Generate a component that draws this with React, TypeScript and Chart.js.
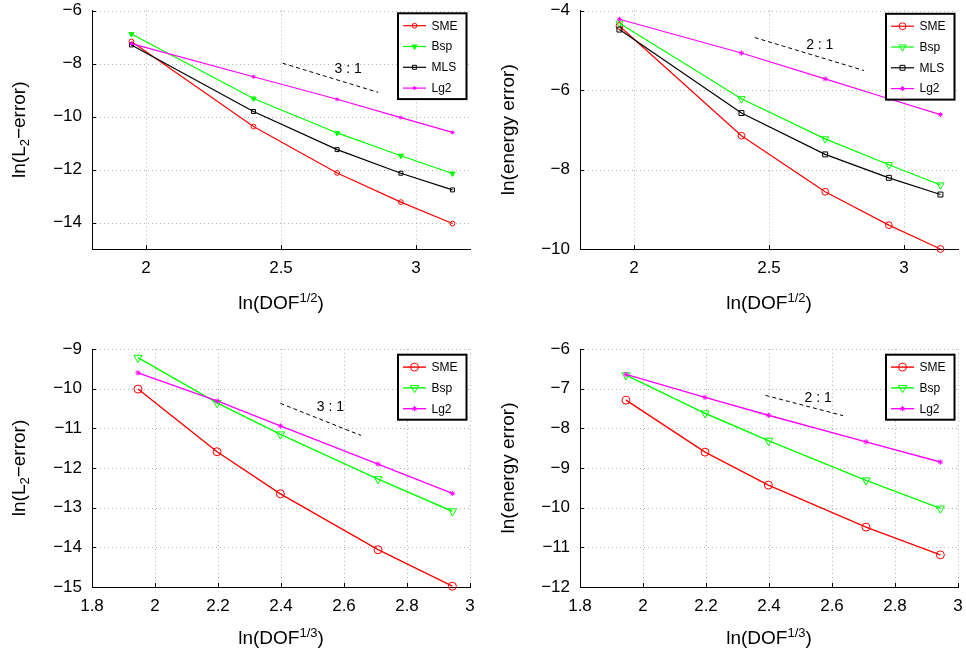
import React, { useEffect, useRef } from 'react';
import { Chart, registerables } from 'chart.js';

Chart.register(...registerables);

const FONT = '"Liberation Sans", Arial, Helvetica, sans-serif';

// ---------------- data ----------------
// x positions: ln(DOF^(1/2)) for 2D, ln(DOF^(1/3)) for 3D
const dof2D = [1.946, 2.398, 2.708, 2.944, 3.135];
const dof3D = [1.946, 2.197, 2.398, 2.708, 2.944];

// top-left: ln(L2-error), 2D
const l2SME2D = [-7.17, -10.38, -12.13, -13.23, -14.04];
const l2Bsp2D = [-6.89, -9.32, -10.62, -11.48, -12.15];
const l2MLS2D = [-7.3, -9.81, -11.25, -12.14, -12.77];
const l2Lg22D = [-7.25, -8.5, -9.35, -10.04, -10.6];

// top-right: ln(energy error), 2D
const enSME2D = [-4.39, -7.15, -8.56, -9.4, -10.0];
const enBsp2D = [-4.32, -6.22, -7.23, -7.88, -8.39];
const enMLS2D = [-4.48, -6.58, -7.62, -8.21, -8.63];
const enLg22D = [-4.22, -5.07, -5.72, -6.22, -6.62];

// bottom-left: ln(L2-error), 3D
const l2SME3D = [-10.01, -11.59, -12.65, -14.06, -14.98];
const l2Bsp3D = [-9.22, -10.36, -11.15, -12.28, -13.09];
const l2Lg23D = [-9.6, -10.31, -10.94, -11.9, -12.64];

// bottom-right: ln(energy error), 3D
const enSME3D = [-7.29, -8.6, -9.43, -10.49, -11.19];
const enBsp3D = [-6.66, -7.62, -8.31, -9.31, -10.02];
const enLg23D = [-6.64, -7.22, -7.67, -8.34, -8.85];

// slope guide lines (dashed) and their labels
const slopeL22DX = [2.506, 2.86];
const slopeL22DY = [-7.99, -9.09];
const slopeEn2DX = [2.447, 2.852];
const slopeEn2DY = [-4.68, -5.51];
const slopeL23DX = [2.398, 2.654];
const slopeL23DY = [-10.37, -11.18];
const slopeEn3DX = [2.389, 2.635];
const slopeEn3DY = [-7.17, -7.68];
const slopeLabels = ['3 : 1', '2 : 1', '3 : 1', '2 : 1'];
const slopeLabelXs = [2.749, 2.688, 2.557, 2.556];
const slopeLabelYs = [-8.2, -4.86, -10.47, -7.25];

// ticks
const xTicks2D = [2, 2.5, 3];
const xTicks3D = [1.8, 2, 2.2, 2.4, 2.6, 2.8, 3];
const yTicksL22D = [-14, -12, -10, -8, -6];
const yTicksEn2D = [-10, -8, -6, -4];
const yTicksL23D = [-15, -14, -13, -12, -11, -10, -9];
const yTicksEn3D = [-12, -11, -10, -9, -8, -7, -6];

// axis titles
const xTitleMain = 'ln(DOF';
const xTitleSup2D = '1/2';
const xTitleSup3D = '1/3';
const yTitleL2 = ['ln(L', '2', '\u2212error)'];
const yTitleEn = ['ln(energy error)'];

// ---------------- styles ----------------
const STYLES: Record<string, { color: string; shape: string; rot: number }> = {
  SME: { color: '#ff0000', shape: 'circle', rot: 0 },
  Bsp: { color: '#00ff00', shape: 'triangle', rot: 180 },
  MLS: { color: '#000000', shape: 'rect', rot: 0 },
  Lg2: { color: '#ff00ff', shape: 'star', rot: 0 },
};

type Series = { name: string; ys: number[]; radius: number; filled: boolean };
type Panel = {
  left: number; top: number; width: number; height: number;
  yAxisWidth: number; padTop: number; padRight: number; xAxisHeight: number;
  xMin: number; xMax: number; yMin: number; yMax: number;
  xTicks: number[]; yTicks: number[]; xs: number[]; series: Series[];
  slopeX: number[]; slopeY: number[]; slopeIdx: number;
  yTitle: string[]; yTitleX: number; xSup: string; xTitleBaseline: number;
  legendTop: number; lineWidth: number;
};

const panels: Panel[] = [
  {
    left: 0, top: 0, width: 483, height: 320,
    yAxisWidth: 92, padTop: 10.5, padRight: 13, xAxisHeight: 71,
    xMin: 1.8, xMax: 3.2, yMin: -15, yMax: -6,
    xTicks: xTicks2D, yTicks: yTicksL22D, xs: dof2D,
    series: [
      { name: 'SME', ys: l2SME2D, radius: 2.4, filled: false },
      { name: 'Bsp', ys: l2Bsp2D, radius: 3, filled: true },
      { name: 'MLS', ys: l2MLS2D, radius: 2.8, filled: false },
      { name: 'Lg2', ys: l2Lg22D, radius: 2, filled: false },
    ],
    slopeX: slopeL22DX, slopeY: slopeL22DY, slopeIdx: 0,
    yTitle: yTitleL2, yTitleX: 24.5, xSup: xTitleSup2D, xTitleBaseline: 309,
    legendTop: 2.8, lineWidth: 1.2,
  },
  {
    left: 483, top: 0, width: 483, height: 320,
    yAxisWidth: 97, padTop: 10.5, padRight: 8, xAxisHeight: 71,
    xMin: 1.8, xMax: 3.2, yMin: -10, yMax: -4,
    xTicks: xTicks2D, yTicks: yTicksEn2D, xs: dof2D,
    series: [
      { name: 'SME', ys: enSME2D, radius: 3.4, filled: false },
      { name: 'Bsp', ys: enBsp2D, radius: 4.2, filled: false },
      { name: 'MLS', ys: enMLS2D, radius: 3.5, filled: false },
      { name: 'Lg2', ys: enLg22D, radius: 2.5, filled: false },
    ],
    slopeX: slopeEn2DX, slopeY: slopeEn2DY, slopeIdx: 1,
    yTitle: yTitleEn, yTitleX: 30.6, xSup: xTitleSup2D, xTitleBaseline: 309,
    legendTop: 3.3, lineWidth: 1.2,
  },
  {
    left: 0, top: 320, width: 483, height: 330,
    yAxisWidth: 92, padTop: 29, padRight: 13, xAxisHeight: 63,
    xMin: 1.8, xMax: 3, yMin: -15, yMax: -9,
    xTicks: xTicks3D, yTicks: yTicksL23D, xs: dof3D,
    series: [
      { name: 'SME', ys: l2SME3D, radius: 4, filled: false },
      { name: 'Bsp', ys: l2Bsp3D, radius: 4.8, filled: false },
      { name: 'Lg2', ys: l2Lg23D, radius: 2.6, filled: false },
    ],
    slopeX: slopeL23DX, slopeY: slopeL23DY, slopeIdx: 2,
    yTitle: yTitleL2, yTitleX: 25.3, xSup: xTitleSup3D, xTitleBaseline: 324.3,
    legendTop: 5.7, lineWidth: 1.4,
  },
  {
    left: 483, top: 320, width: 483, height: 330,
    yAxisWidth: 97, padTop: 29, padRight: 8, xAxisHeight: 63,
    xMin: 1.8, xMax: 3, yMin: -12, yMax: -6,
    xTicks: xTicks3D, yTicks: yTicksEn3D, xs: dof3D,
    series: [
      { name: 'SME', ys: enSME3D, radius: 4, filled: false },
      { name: 'Bsp', ys: enBsp3D, radius: 4.8, filled: false },
      { name: 'Lg2', ys: enLg23D, radius: 2.6, filled: false },
    ],
    slopeX: slopeEn3DX, slopeY: slopeEn3DY, slopeIdx: 3,
    yTitle: yTitleEn, yTitleX: 30.6, xSup: xTitleSup3D, xTitleBaseline: 324.3,
    legendTop: 5.7, lineWidth: 1.4,
  },
];

// ---------------- helpers ----------------
function fmtX(v: number) {
  return String(Number(v.toFixed(2)));
}
function fmtY(v: number) {
  return String(Number(v.toFixed(2))).replace('-', '\u2212');
}

function shapePath(ctx: CanvasRenderingContext2D, shape: string, rot: number, x: number, y: number, r: number) {
  ctx.beginPath();
  if (shape === 'circle') {
    ctx.arc(x, y, r, 0, Math.PI * 2);
  } else if (shape === 'triangle') {
    let rad = (rot * Math.PI) / 180;
    ctx.moveTo(x + Math.sin(rad) * r, y - Math.cos(rad) * r);
    rad += (2 * Math.PI) / 3;
    ctx.lineTo(x + Math.sin(rad) * r, y - Math.cos(rad) * r);
    rad += (2 * Math.PI) / 3;
    ctx.lineTo(x + Math.sin(rad) * r, y - Math.cos(rad) * r);
    ctx.closePath();
  } else if (shape === 'rect') {
    const s = r * Math.SQRT1_2;
    ctx.rect(x - s, y - s, 2 * s, 2 * s);
  } else if (shape === 'star') {
    ctx.moveTo(x, y - r); ctx.lineTo(x, y + r);
    ctx.moveTo(x - r, y); ctx.lineTo(x + r, y);
    const d = r * Math.SQRT1_2;
    ctx.moveTo(x - d, y - d); ctx.lineTo(x + d, y + d);
    ctx.moveTo(x - d, y + d); ctx.lineTo(x + d, y - d);
  }
}

type Seg = { t: string; size: number; dy: number };

function drawSegs(ctx: CanvasRenderingContext2D, segs: Seg[], cx: number, baseline: number) {
  let total = 0;
  for (const s of segs) {
    ctx.font = `${s.size}px ${FONT}`;
    total += ctx.measureText(s.t).width;
  }
  let x = cx - total / 2;
  ctx.textAlign = 'left';
  ctx.textBaseline = 'alphabetic';
  for (const s of segs) {
    ctx.font = `${s.size}px ${FONT}`;
    ctx.fillText(s.t, x, baseline + s.dy);
    x += ctx.measureText(s.t).width;
  }
}

function makePlugin(p: Panel) {
  return {
    id: 'decor',
    beforeDatasetsDraw(chart: any) {
      const { ctx, chartArea: a, scales } = chart;
      const xs = scales.x;
      const ys = scales.y;
      ctx.save();
      ctx.strokeStyle = '#b5b5b5';
      ctx.lineWidth = 1;
      ctx.setLineDash([1, 3]);
      for (const v of p.xTicks) {
        const px = Math.round(xs.getPixelForValue(v)) + 0.5;
        if (px <= a.left + 1) continue;
        ctx.beginPath(); ctx.moveTo(px, a.top); ctx.lineTo(px, a.bottom); ctx.stroke();
      }
      for (const v of p.yTicks) {
        const py = Math.round(ys.getPixelForValue(v)) + 0.5;
        if (py >= a.bottom - 1) continue;
        ctx.beginPath(); ctx.moveTo(a.left, py); ctx.lineTo(a.right, py); ctx.stroke();
      }
      ctx.setLineDash([]);
      ctx.strokeStyle = '#000';
      for (const v of p.xTicks) {
        const px = Math.round(xs.getPixelForValue(v)) + 0.5;
        ctx.beginPath(); ctx.moveTo(px, a.bottom); ctx.lineTo(px, a.bottom - 4); ctx.stroke();
      }
      for (const v of p.yTicks) {
        const py = Math.round(ys.getPixelForValue(v)) + 0.5;
        ctx.beginPath(); ctx.moveTo(a.left, py); ctx.lineTo(a.left + 4, py); ctx.stroke();
      }
      ctx.restore();
    },
    afterDatasetsDraw(chart: any) {
      const { ctx, chartArea: a, scales } = chart;
      const xs = scales.x;
      const ys = scales.y;
      ctx.save();
      // slope label
      ctx.fillStyle = '#000';
      ctx.font = `14px ${FONT}`;
      ctx.textAlign = 'center';
      ctx.textBaseline = 'middle';
      ctx.fillText(
        slopeLabels[p.slopeIdx],
        xs.getPixelForValue(slopeLabelXs[p.slopeIdx]),
        ys.getPixelForValue(slopeLabelYs[p.slopeIdx])
      );

      // legend
      const rowH = 20.8;
      const bw = 68.5;
      const bh = p.series.length * rowH + 2.6;
      const bx = a.right - 3.5 - bw;
      const by = a.top + p.legendTop;
      ctx.fillStyle = '#fff';
      ctx.fillRect(bx, by, bw, bh);
      ctx.strokeStyle = '#000';
      ctx.lineWidth = 2;
      ctx.strokeRect(bx, by, bw, bh);
      p.series.forEach((s, i) => {
        const st = STYLES[s.name];
        const cy = by + 12.4 + i * rowH;
        ctx.strokeStyle = st.color;
        ctx.lineWidth = p.lineWidth;
        ctx.beginPath(); ctx.moveTo(bx + 5, cy); ctx.lineTo(bx + 28, cy); ctx.stroke();
        ctx.lineWidth = 1;
        shapePath(ctx, st.shape, st.rot, bx + 16.5, cy, s.radius);
        if (s.filled) { ctx.fillStyle = st.color; ctx.fill(); }
        ctx.stroke();
        ctx.fillStyle = '#000';
        ctx.font = `12px ${FONT}`;
        ctx.textAlign = 'left';
        ctx.textBaseline = 'middle';
        ctx.fillText(s.name, bx + 33.5, cy + 0.5);
      });

      // x title
      ctx.fillStyle = '#000';
      drawSegs(
        ctx,
        [
          { t: xTitleMain, size: 19, dy: 0 },
          { t: p.xSup, size: 13, dy: -7.3 },
          { t: ')', size: 19, dy: 0 },
        ],
        (a.left + a.right) / 2,
        p.xTitleBaseline
      );

      // y title (rotated)
      ctx.translate(p.yTitleX, (a.top + a.bottom) / 2);
      ctx.rotate(-Math.PI / 2);
      const segs: Seg[] = p.yTitle.map((t, i) =>
        p.yTitle.length === 3 && i === 1 ? { t, size: 13, dy: 4 } : { t, size: 19, dy: 0 }
      );
      drawSegs(ctx, segs, 0, 0);
      ctx.restore();
    },
  };
}

function buildConfig(p: Panel): any {
  const n = p.series.length;
  const datasets: any[] = p.series.map((s, i) => {
    const st = STYLES[s.name];
    return {
      label: s.name,
      data: p.xs.map((x, k) => ({ x, y: s.ys[k] })),
      borderColor: st.color,
      backgroundColor: st.color,
      borderWidth: p.lineWidth,
      pointStyle: st.shape,
      pointRotation: st.rot,
      pointRadius: s.radius,
      pointBorderWidth: 1,
      pointBorderColor: st.color,
      pointBackgroundColor: s.filled ? st.color : 'rgba(0,0,0,0)',
      tension: 0,
      clip: false,
      order: n - i,
    };
  });
  datasets.push({
    label: 'slope',
    data: p.slopeX.map((x, k) => ({ x, y: p.slopeY[k] })),
    borderColor: '#000',
    borderWidth: 1,
    borderDash: [4, 3],
    pointRadius: 0,
    tension: 0,
    clip: false,
    order: n + 1,
  });

  const tickFont = { family: FONT, size: 17 };
  return {
    type: 'line',
    data: { datasets },
    options: {
      responsive: false,
      animation: false,
      devicePixelRatio: 1,
      events: [],
      layout: { padding: { left: 0, top: p.padTop, right: p.padRight, bottom: 0 } },
      plugins: {
        legend: { display: false },
        tooltip: { enabled: false },
        title: { display: false },
      },
      scales: {
        x: {
          type: 'linear',
          position: 'bottom',
          min: p.xMin,
          max: p.xMax,
          afterBuildTicks: (s: any) => {
            s.ticks = p.xTicks.map((v) => ({ value: v }));
          },
          afterFit: (s: any) => {
            s.height = p.xAxisHeight;
            s.paddingLeft = 0; s.paddingRight = 0; s.paddingTop = 0; s.paddingBottom = 0;
          },
          grid: { display: false, drawTicks: false },
          border: { display: true, color: '#000', width: 1 },
          ticks: {
            font: tickFont,
            color: '#000',
            padding: 9,
            maxRotation: 0,
            minRotation: 0,
            autoSkip: false,
            callback: (v: any) => fmtX(Number(v)),
          },
        },
        y: {
          type: 'linear',
          position: 'left',
          min: p.yMin,
          max: p.yMax,
          afterBuildTicks: (s: any) => {
            s.ticks = p.yTicks.map((v) => ({ value: v }));
          },
          afterFit: (s: any) => {
            s.width = p.yAxisWidth;
            s.paddingLeft = 0; s.paddingRight = 0; s.paddingTop = 0; s.paddingBottom = 0;
          },
          grid: { display: false, drawTicks: false },
          border: { display: true, color: '#000', width: 1 },
          ticks: {
            font: tickFont,
            color: '#000',
            padding: 10,
            autoSkip: false,
            callback: (v: any) => fmtY(Number(v)),
          },
        },
      },
    },
    plugins: [makePlugin(p)],
  };
}

function PanelChart({ p }: { p: Panel }) {
  const ref = useRef<HTMLCanvasElement>(null);
  useEffect(() => {
    if (!ref.current) return;
    const chart = new Chart(ref.current, buildConfig(p));
    return () => chart.destroy();
  }, [p]);
  return (
    <canvas
      ref={ref}
      width={p.width}
      height={p.height}
      style={{ position: 'absolute', left: p.left, top: p.top, width: p.width, height: p.height }}
    />
  );
}

export default function App() {
  return (
    <div style={{ position: 'absolute', left: 0, top: 0, width: 966, height: 650, background: '#fff' }}>
      {panels.map((p, i) => (
        <PanelChart key={i} p={p} />
      ))}
    </div>
  );
}
